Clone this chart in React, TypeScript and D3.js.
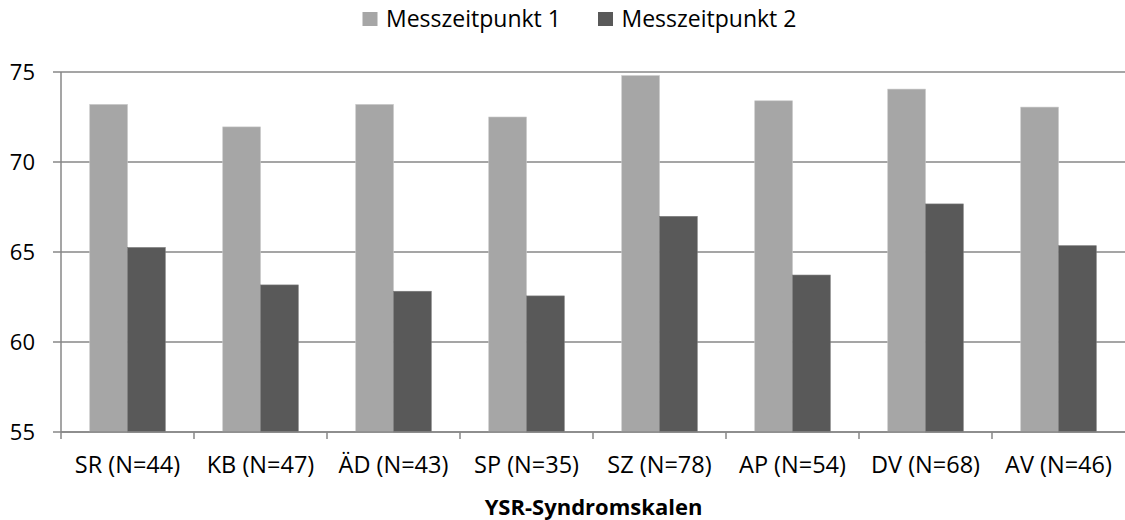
import React from "react";
import * as d3 from "d3";

const categories = ["SR (N=44)", "KB (N=47)", "ÄD (N=43)", "SP (N=35)", "SZ (N=78)", "AP (N=54)", "DV (N=68)", "AV (N=46)"];
const seriesNames = ["Messzeitpunkt 1", "Messzeitpunkt 2"];
const mzp1 = [73.2, 71.95, 73.2, 72.5, 74.8, 73.4, 74.05, 73.05];
const mzp2 = [65.25, 63.17, 62.82, 62.56, 66.98, 63.72, 67.67, 65.35];
const yTicks = [55, 60, 65, 70, 75];
const colors = ["#A6A6A6", "#595959"];
const xTitle = "YSR-Syndromskalen";

const W = 1125, H = 520;
const left = 61, right = 1125, top = 72, bottom = 432;
const FONT = "'Open Sans', 'Noto Sans', sans-serif";

export default function App() {
  const y = d3.scaleLinear().domain([55, 75]).range([bottom, top]);
  const x0 = d3.scaleBand<string>().domain(categories).range([left, right]).paddingInner(0.432).paddingOuter(0.216);
  const x1 = d3.scaleBand<string>().domain(seriesNames).range([0, x0.bandwidth()]);
  const step = x0.step();
  const values = [mzp1, mzp2];
  const gridColor = "#878787";

  return (
    <svg width={W} height={H} style={{ position: "absolute", left: 0, top: 0, display: "block" }} fontFamily={FONT}>
      <rect width={W} height={H} fill="#fff" />
      {yTicks.map((t) => (
        <g key={t}>
          <line x1={left - 8} x2={right} y1={y(t)} y2={y(t)} stroke={gridColor} strokeWidth={1.5} />
          <text x={35} y={y(t)} dy="0.36em" textAnchor="end" fontSize={22} fill="#000">{t}</text>
        </g>
      ))}
      {categories.map((c, i) => (
        <g key={c} transform={`translate(${x0(c)},0)`}>
          {seriesNames.map((s, j) => (
            <rect key={s} x={x1(s)} y={y(values[j][i])} width={x1.bandwidth()} height={bottom - y(values[j][i])}
              fill={colors[j]} stroke={j === 0 ? "#c8c8c8" : "#7a7a7a"} strokeWidth={0.6} />
          ))}
        </g>
      ))}
      <line x1={left} x2={left} y1={top} y2={bottom} stroke={gridColor} strokeWidth={1.5} />
      <line x1={left} x2={right} y1={bottom} y2={bottom} stroke={gridColor} strokeWidth={1.5} />
      {categories.map((c, i) => (
        <line key={"t" + c} x1={left + i * step} x2={left + i * step} y1={bottom} y2={bottom + 7} stroke={gridColor} strokeWidth={1.5} />
      ))}
      {categories.map((c) => (
        <text key={"l" + c} x={(x0(c) as number) + x0.bandwidth() / 2} y={473} textAnchor="middle" fontSize={23.5} fill="#000">{c}</text>
      ))}
      <text x={593.5} y={515} textAnchor="middle" fontSize={22} fontWeight="bold" fill="#000">{xTitle}</text>
      {seriesNames.map((s, j) => {
        const lx = j === 0 ? 362.5 : 598;
        return (
          <g key={"lg" + s}>
            <rect x={lx} y={12} width={15} height={14} fill={colors[j]} />
            <text x={lx + 23.5} y={27} fontSize={23} fill="#000">{s}</text>
          </g>
        );
      })}
    </svg>
  );
}
